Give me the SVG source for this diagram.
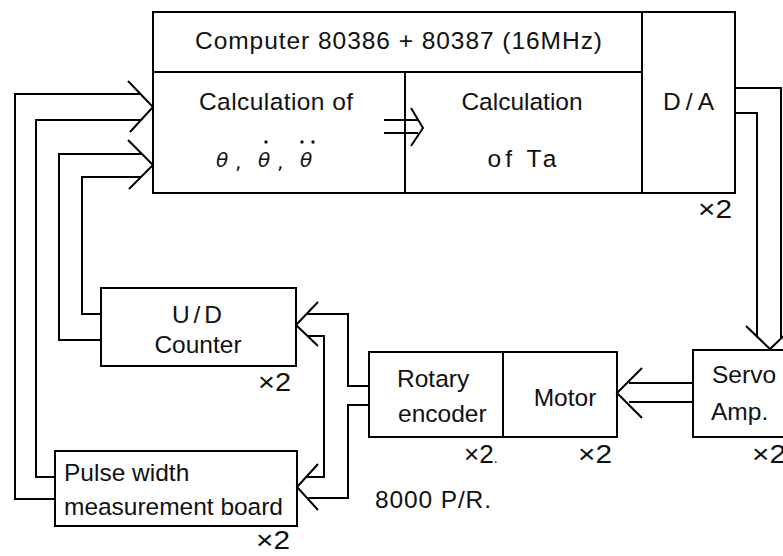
<svg xmlns="http://www.w3.org/2000/svg" width="783" height="556" viewBox="0 0 783 556">
<style>
.b{fill:none;stroke:#000;stroke-width:2}
.c{fill:none;stroke:#000;stroke-width:2;stroke-linejoin:miter}
text{font-family:"Liberation Sans",Arial,sans-serif;font-size:24.5px;fill:#111}
.m{text-anchor:middle}
.x{font-size:26px}
.th{font-family:"DejaVu Sans",sans-serif;font-style:italic;font-size:20px}
.dt{font-family:"DejaVu Sans",sans-serif;font-size:20px}
</style>
<rect width="783" height="556" fill="#fff"/>
<g id="computer">
<rect class="b" x="153" y="12" width="582" height="181"/>
<line class="b" x1="153" y1="72" x2="642" y2="72"/>
<text class="m" x="398.5" y="49" textLength="407" lengthAdjust="spacing">Computer 80386 + 80387 (16MHz)</text>
</g>
<g id="calc-theta">
<line class="b" x1="405" y1="72" x2="405" y2="193"/>
<text class="m" x="276" y="110" textLength="154" lengthAdjust="spacing">Calculation of</text>
<text class="th" x="216" y="167">θ</text>
<text class="dt" x="235" y="169">,</text>
<text class="th" x="258" y="167">θ</text>
<text class="dt" x="277" y="169">,</text>
<text class="th" x="300" y="167">θ</text>
<circle cx="266" cy="142" r="1.7" fill="#111"/>
<circle cx="302" cy="142" r="1.7" fill="#111"/>
<circle cx="313" cy="142" r="1.7" fill="#111"/>
</g>
<g id="calc-ta">
<text class="m" x="522" y="110">Calculation</text>
<text class="m" x="522" y="167" textLength="69" lengthAdjust="spacing">of  Ta</text>
</g>
<g id="da">
<line class="b" x1="642" y1="12" x2="642" y2="193"/>
<text class="m" x="688.5" y="110" textLength="51" lengthAdjust="spacing">D/A</text>
<text class="x" x="698" y="218" textLength="34" lengthAdjust="spacingAndGlyphs">×2</text>
</g>
<g id="counter">
<rect class="b" x="101" y="288" width="195" height="78"/>
<text class="m" x="197" y="323" textLength="50" lengthAdjust="spacing">U/D</text>
<text class="m" x="198" y="353">Counter</text>
<text class="x" x="258" y="391" textLength="33" lengthAdjust="spacingAndGlyphs">×2</text>
</g>
<g id="pulse">
<rect class="b" x="55" y="451" width="242" height="75"/>
<text x="64" y="481">Pulse width</text>
<text x="64" y="515" textLength="219" lengthAdjust="spacing">measurement board</text>
<text class="x" x="256" y="549" textLength="34" lengthAdjust="spacingAndGlyphs">×2</text>
</g>
<g id="encoder">
<rect class="b" x="369" y="352" width="134" height="85"/>
<text x="397" y="387">Rotary</text>
<text x="398" y="422">encoder</text>
<text class="x" x="464" y="463">×2<tspan font-size="14px">.</tspan></text>
<text x="375" y="508" textLength="116" lengthAdjust="spacing">8000 P/R.</text>
</g>
<g id="motor">
<rect class="b" x="503" y="352" width="114" height="85"/>
<text class="m" x="565" y="406">Motor</text>
<text class="x" x="578" y="463" textLength="34" lengthAdjust="spacingAndGlyphs">×2</text>
</g>
<g id="servo">
<rect class="b" x="693" y="350" width="110" height="87"/>
<text x="712" y="383">Servo</text>
<text x="711" y="420">Amp.</text>
<text class="x" x="752" y="463" textLength="34" lengthAdjust="spacingAndGlyphs">×2</text>
</g>
<g id="connectors">
<polyline class="c" points="55,499 15,499 15,94 141,94"/>
<polyline class="c" points="55,477 36,477 36,120 141,120"/>
<polyline class="c" points="101,340 59,340 59,154 141,154"/>
<polyline class="c" points="101,314 82,314 82,177 141,177"/>
<polyline class="c" points="128,81 153,107 130,132"/>
<polyline class="c" points="128,140 153,165 129,189"/>
<line class="b" x1="384" y1="120" x2="418" y2="120"/>
<line class="b" x1="384" y1="133" x2="418" y2="133"/>
<polyline class="c" points="411,108 423,128 411,146"/>
<polyline class="c" points="735,88 781,88 781,338"/>
<polyline class="c" points="735,113 757,113 757,337"/>
<polyline class="c" points="746,326 770,349 794,326"/>
<line class="b" x1="693" y1="383" x2="629" y2="383"/>
<line class="b" x1="693" y1="402" x2="629" y2="402"/>
<polyline class="c" points="642,368 617,393 642,418"/>
<polyline class="c" points="369,386 348,386 348,314 307,314"/>
<polyline class="c" points="369,405 348,405 348,498 308,498"/>
<polyline class="c" points="308,336 324,336 324,477 307,477"/>
<polyline class="c" points="318,302 296,325 318,346"/>
<polyline class="c" points="318,464 297,487 318,510"/>
</g>
</svg>
